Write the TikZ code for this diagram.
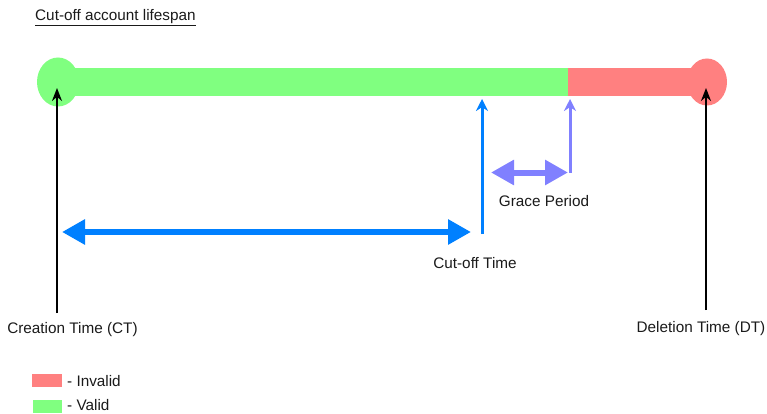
\documentclass[tikz,border=0pt]{standalone}
\usepackage{fontspec}
\setmainfont{Liberation Sans}
\usetikzlibrary{arrows.meta}
\definecolor{validc}{HTML}{80FF80}
\definecolor{invalidc}{HTML}{FF8080}
\definecolor{cutblue}{HTML}{0080FF}
\definecolor{gracec}{HTML}{8080FF}
\definecolor{txt}{HTML}{1A1A1A}
\begin{document}
\begin{tikzpicture}[x=1pt,y=-1pt,
  lbl/.style={font=\fontsize{15.3}{17}\selectfont, text=txt, inner sep=0pt, anchor=center},
  blackarrow/.style={line width=2.5pt, -{Stealth[length=13pt,width=10pt]}},
  thinarrow/.style={line width=3pt, -{Stealth[length=12pt,width=12pt]}},
  bigdouble/.style={line width=6pt, {Triangle[length=23pt,width=24pt]}-{Triangle[length=23pt,width=24pt]}}
]
\useasboundingbox (0,0) rectangle (767,414);
% title
\node[lbl, anchor=west] (title) at (35,18) {\underline{Cut-off account lifespan}};
% bar
\coordinate (ct) at (58,82);
\coordinate (co) at (482,82);
\coordinate (gp) at (570,82);
\coordinate (dt) at (707,82);
\fill[validc] (ct) ellipse [x radius=21, y radius=24.5];
\fill[invalidc] (dt) ellipse [x radius=20, y radius=23.5];
\fill[validc] (58,68) rectangle (569,96.5);
\fill[invalidc] (568,68) rectangle (707,96.5);
% labels
\node[lbl] (ctl) at (72.5,330) {Creation Time (CT)};
\node[lbl] (dtl) at (701,329) {Deletion Time (DT)};
\node[lbl] (col) at (475,263) {Cut-off Time};
\node[lbl] (gpl) at (544,201) {Grace Period};
% black arrows
\coordinate (ctb) at (57,313);
\coordinate (ctt) at (57,88);
\coordinate (dtb) at (706,310);
\coordinate (dtt) at (706,88);
\draw[blackarrow] (ctb) -- (ctt);
\draw[blackarrow] (dtb) -- (dtt);
% cut-off arrow
\coordinate (cob) at (482,234);
\coordinate (cot) at (482,99);
\draw[cutblue, thinarrow] (cob) -- (cot);
\coordinate (dl) at (62,232);
\coordinate (dr) at (471,232);
\draw[cutblue, bigdouble] (dl) -- (dr);
% grace arrows
\coordinate (gb) at (570,172.5);
\coordinate (gt) at (570,99);
\draw[gracec, thinarrow] (gb) -- (gt);
\coordinate (gl) at (491,172.5);
\coordinate (gr) at (568,172.5);
\draw[gracec, bigdouble] (gl) -- (gr);
% legend
\node[fill=invalidc, minimum width=30pt, minimum height=13pt, inner sep=0pt, anchor=north west] (leginv) at (32,374) {};
\node[fill=validc, minimum width=29pt, minimum height=13pt, inner sep=0pt, anchor=north west] (legval) at (33,400) {};
\node[lbl, anchor=west] (inv) at (67,381) {- Invalid};
\node[lbl, anchor=west] (val) at (67,405.5) {- Valid};
\end{tikzpicture}
\end{document}
